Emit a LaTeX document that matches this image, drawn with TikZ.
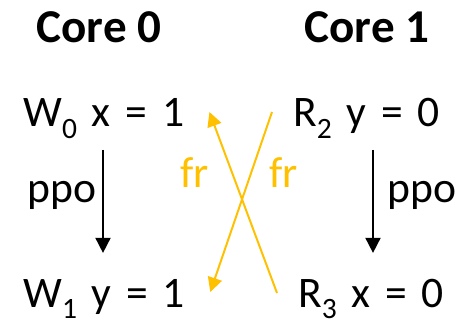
\documentclass[tikz,border=0pt]{standalone}
\usepackage{fontspec}
\setmainfont{Carlito}
\usepackage{tikz}
\usetikzlibrary{arrows.meta}
\definecolor{gold}{HTML}{FFC000}
\newcommand{\idx}[1]{\raisebox{-0.26em}{\fontsize{21}{21}\selectfont #1}}
\newcommand{\evfont}{\fontsize{31}{36}\selectfont\spaceskip 0.34em\relax}

\begin{document}
\begin{tikzpicture}[
  lbl/.style={inner sep=0pt,font=\evfont},
  core/.style={inner sep=0pt,anchor=base,font=\fontsize{33.5}{40}\selectfont\bfseries},
  ev/.style={lbl,anchor=base west},
  ar/.style={-{Triangle[length=3.8mm,width=3.7mm]},line width=1.9pt},
  fr/.style={-{Triangle[length=3.6mm,width=3.6mm]},gold,line width=1.4pt},
]
\useasboundingbox (0,0) rectangle (11.425,8.05);
% headers
\node[core] (c0) at (2.475,6.975) {Core 0};
\node[core] (c1) at (9.175,6.975) {Core 1};

% core 0
\node[ev] (w0) at (0.575,4.875) {W\idx{0} x = 1};
\node[ev] (w1) at (0.575,0.37) {W\idx{1} y = 1};
\draw[ar] ([shift={(2.0,-0.575)}]w0.base west) -- ([shift={(2.0,1.355)}]w1.base west);
\node[ev] (p0) at (0.675,2.975) {ppo};

% core 1
\node[ev] (r2) at (7.325,4.875) {R\idx{2} y = 0};
\node[ev] (r3) at (7.45,0.37) {R\idx{3} x = 0};
\draw[ar] ([shift={(2.0,-0.575)}]r2.base west) -- ([shift={(1.875,1.355)}]r3.base west);
\node[ev] (p1) at (9.675,2.975) {ppo};

% from-read edges
\draw[fr] ([shift={(-0.525,0.355)}]r3.base west) -- ([shift={(0.625,0.375)}]w0.base east);
\draw[fr] ([shift={(-0.525,0.375)}]r2.base west) -- ([shift={(0.625,0.38)}]w1.base east);
\node[ev,text=gold] (f0) at (4.5,3.35) {fr};
\node[ev,text=gold] (f1) at (6.725,3.35) {fr};
\end{tikzpicture}
\end{document}
